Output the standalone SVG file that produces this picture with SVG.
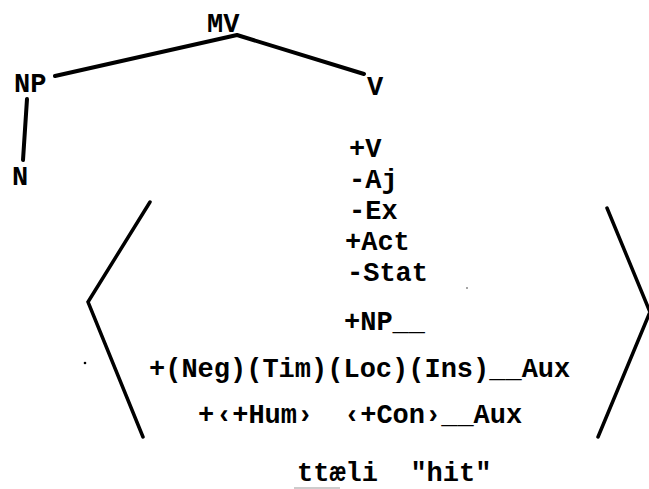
<svg xmlns="http://www.w3.org/2000/svg" width="649" height="489" viewBox="0 0 649 489">
<style>
text{font-family:"Liberation Mono","Courier New",monospace;font-weight:bold;font-size:27px;fill:#000}
.ln{stroke:#000;stroke-width:4;fill:none;stroke-linecap:round;stroke-linejoin:round}
.br{stroke:#000;stroke-width:3.5;fill:none;stroke-linecap:round;stroke-linejoin:miter}
</style>
<rect width="649" height="489" fill="#fff"/>
<g id="connectors">
<polyline class="ln" points="55,76 237,35 364,74"/>
<line class="ln" x1="27" y1="99" x2="23" y2="160"/>
</g>
<g id="node-MV"><text x="207" y="32">MV</text></g>
<g id="node-NP"><text x="14" y="92">NP</text></g>
<g id="node-V"><text x="367" y="95">V</text></g>
<g id="node-N"><text x="12" y="185">N</text></g>
<g id="features">
<text x="349" y="157">+V</text>
<text x="349" y="188">-Aj</text>
<text x="349" y="219">-Ex</text>
<text x="345" y="250">+Act</text>
<text x="347" y="281">-Stat</text>
<text x="344" y="330">+NP__</text>
<text x="149" y="377">+(Neg)(Tim)(Loc)(Ins)__Aux</text>
<text x="198" y="423">+</text>
<text x="216" y="423">‹+Hum›</text>
<text x="344" y="423">‹+Con›__Aux</text>
<text x="297" y="481" xml:space="preserve">ttæli  "hit"</text>
</g>
<g id="brackets">
<polyline class="br" points="150,202 88,302 143,437"/>
<polyline class="br" points="607,208 650,312 598,437"/>
</g>
<line x1="294" y1="488" x2="340" y2="488" stroke="#bbb" stroke-width="1.5"/>
<circle cx="85" cy="363" r="1.3" fill="#000"/>
<circle cx="467" cy="288" r="1" fill="#888"/>
</svg>
